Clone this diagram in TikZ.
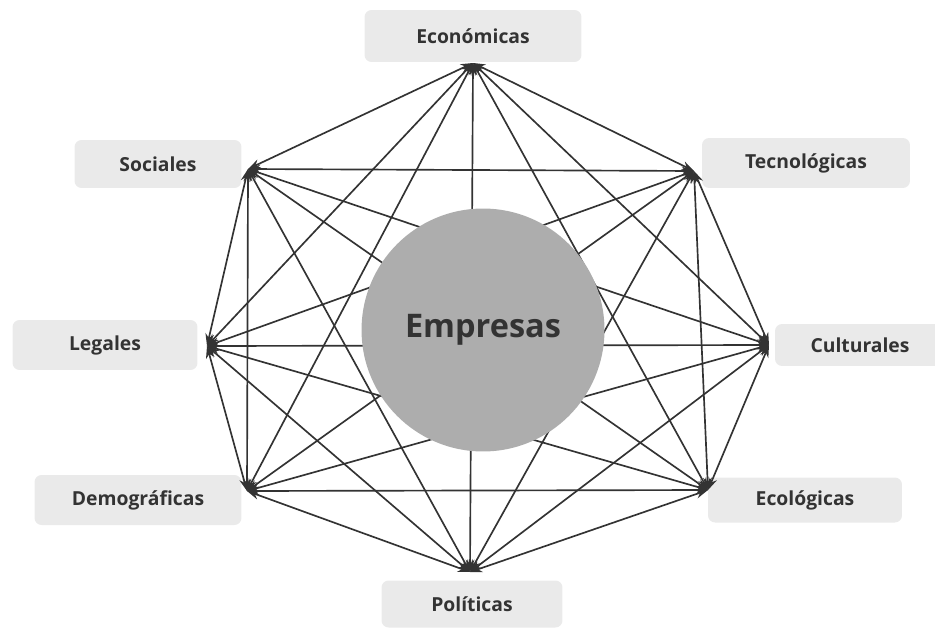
\documentclass[tikz,border=0pt]{standalone}
\usepackage{fontspec}
\setmainfont{Open Sans}
\usetikzlibrary{arrows.meta}
\definecolor{boxgray}{HTML}{EAEAEA}
\definecolor{discgray}{HTML}{ADADAD}
\definecolor{txtgray}{HTML}{333333}

\begin{document}
\begin{tikzpicture}[x=0.02cm, y=-0.02cm,
  factor/.style={fill=boxgray, rounded corners=4pt, text=txtgray, inner sep=0pt,
    font=\fontsize{11}{13}\selectfont\bfseries},
  link/.style={{Stealth[length=7pt,width=5pt]}-{Stealth[length=7pt,width=5pt]},
    line width=0.95pt, draw=black!80}]
  \useasboundingbox (0,0) rectangle (935,628);
  % factor boxes
  \node[factor, minimum width=4.34cm, minimum height=1.04cm] (eco) at (473,36) {Económicas};
  \node[factor, minimum width=4.16cm, minimum height=1.00cm] (tec) at (806,163) {Tecnológicas};
  \node[factor, minimum width=3.40cm, minimum height=0.84cm] (cul) at (860,345) {Culturales};
  \node[factor, minimum width=3.88cm, minimum height=0.90cm] (ecl) at (805,500) {Ecológicas};
  \node[factor, minimum width=3.62cm, minimum height=0.94cm] (pol) at (472,604) {Políticas};
  \node[factor, minimum width=4.14cm, minimum height=1.00cm] (dem) at (138,500) {Demográficas};
  \node[factor, minimum width=3.70cm, minimum height=1.00cm] (leg) at (105,345) {Legales};
  \node[factor, minimum width=3.34cm, minimum height=0.96cm] (soc) at (158,164) {Sociales};
  % meeting points of the arrows
  \foreach \n/\x/\y in {1/473/63, 2/694/171, 3/769/345, 4/708/490,
                        5/470/572, 6/247/491, 7/207/346, 8/248/169}
    \coordinate (p\n) at (\x,\y);
  % every pair linked
  \foreach \i in {1,...,7}{
    \pgfmathtruncatemacro\k{\i+1}
    \foreach \j in {\k,...,8}
      \draw[link] (p\i) -- (p\j);
  }
  \node[circle, fill=discgray, inner sep=0pt, minimum size=4.86cm, text=txtgray,
    font=\fontsize{18.5}{22}\selectfont\bfseries] (emp) at (483,330) {Empresas};
\end{tikzpicture}
\end{document}
